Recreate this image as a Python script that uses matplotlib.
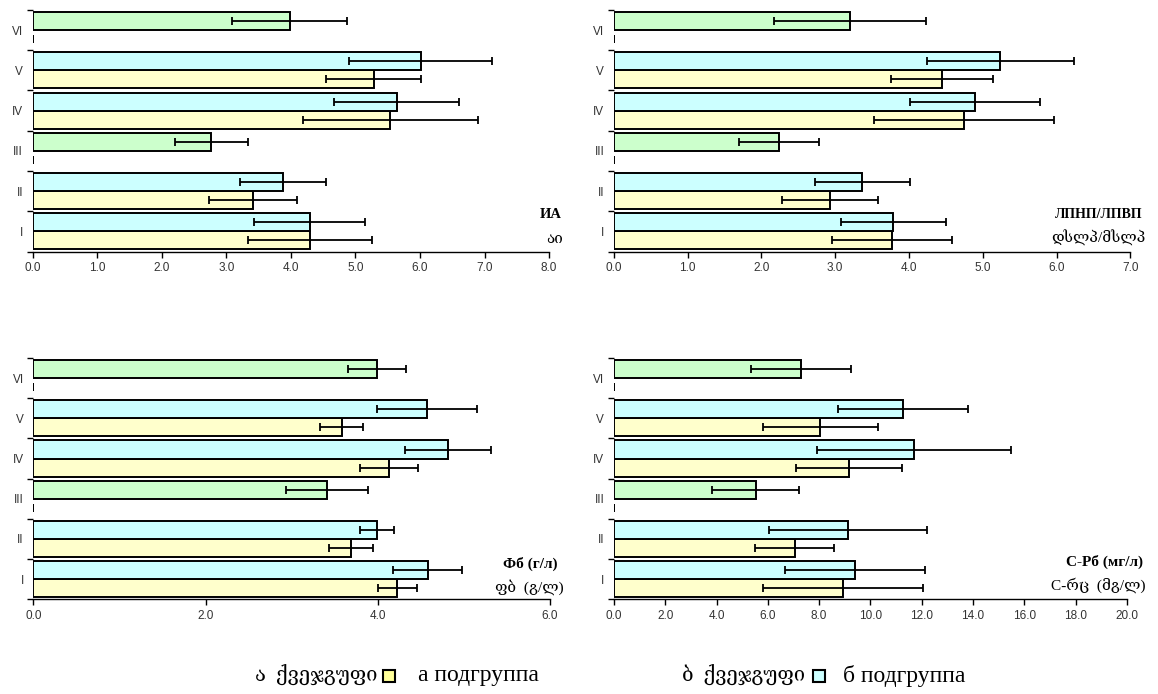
import numpy as np
import matplotlib
matplotlib.use("Agg")
import matplotlib.pyplot as plt
from matplotlib.patches import Rectangle
from matplotlib.ticker import FixedLocator, FormatStrFormatter

# categories (bottom to top)
cats = ["I", "II", "III", "IV", "V", "VI"]

# ИА / აი
ia_a = [4.30, 3.41, 0, 5.54, 5.28, 0]
ia_a_err = [0.96, 0.68, 0, 1.36, 0.73, 0]
ia_b = [4.29, 3.88, 2.77, 5.64, 6.01, 3.98]
ia_b_err = [0.86, 0.67, 0.56, 0.97, 1.11, 0.89]

# ЛПНП/ЛПВП
ldl_a = [3.77, 2.93, 0, 4.74, 4.45, 0]
ldl_a_err = [0.81, 0.65, 0, 1.22, 0.69, 0]
ldl_b = [3.79, 3.37, 2.24, 4.89, 5.24, 3.20]
ldl_b_err = [0.71, 0.645, 0.54, 0.88, 0.99, 1.03]

# Фб (г/л)
fb_a = [4.23, 3.69, 0, 4.13, 3.58, 0]
fb_a_err = [0.23, 0.26, 0, 0.34, 0.25, 0]
fb_b = [4.58, 3.99, 3.41, 4.82, 4.57, 3.99]
fb_b_err = [0.40, 0.20, 0.48, 0.50, 0.58, 0.34]

# C-Рб (мг/л)
crp_a = [8.93, 7.04, 0, 9.16, 8.05, 0]
crp_a_err = [3.13, 1.54, 0, 2.05, 2.25, 0]
crp_b = [9.39, 9.13, 5.53, 11.69, 11.26, 7.29]
crp_b_err = [2.74, 3.08, 1.69, 3.79, 2.53, 1.94]

YELLOW = "#ffffcc"
CYAN = "#ccffff"
GREEN = "#ccffcc"

SERIF = ["Liberation Serif", "DejaVu Serif"]
SANS = ["Liberation Sans", "DejaVu Sans"]

fig = plt.figure(figsize=(11.58, 6.94), dpi=100)


def panel(rect, a, a_err, b, b_err, xmax, step, label_ru, label_ka, pos, fs):
    ax = fig.add_axes(rect)
    y = np.arange(1, len(cats) + 1)
    a = np.array(a, dtype=float)
    b = np.array(b, dtype=float)
    h = 0.45
    has_a = a > 0
    # lower bar (subgroup a)
    ax.barh(y[has_a] - h / 2, a[has_a], height=h, color=YELLOW,
            edgecolor="black", linewidth=1.4, zorder=2)
    # upper bar (subgroup b, or whole group in green)
    colors = [CYAN if ha else GREEN for ha in has_a]
    ax.barh(y + h / 2, b, height=h, color=colors,
            edgecolor="black", linewidth=1.4, zorder=2)
    ax.errorbar(a, y - h / 2, xerr=a_err, fmt="none", ecolor="black",
                elinewidth=1.3, capsize=2.6, capthick=1.3, zorder=3)
    ax.errorbar(b, y + h / 2, xerr=b_err, fmt="none", ecolor="black",
                elinewidth=1.3, capsize=2.6, capthick=1.3, zorder=3)

    ax.set_xlim(0, xmax)
    ax.set_ylim(0.5, len(cats) + 0.5)
    ax.xaxis.set_major_locator(FixedLocator(np.arange(0, xmax + 0.01, step)))
    ax.xaxis.set_major_formatter(FormatStrFormatter("%.1f"))
    ax.set_yticks(y)
    ax.set_yticklabels(cats)
    ax.yaxis.set_minor_locator(FixedLocator(np.arange(0.5, len(cats) + 1, 1)))
    ax.tick_params(axis="y", which="major", length=0, pad=7)
    ax.tick_params(axis="y", which="minor", length=4, width=1)
    ax.tick_params(axis="x", length=4, width=1)
    ax.tick_params(labelsize=8.5, labelcolor="#333333")
    for lab in ax.get_xticklabels() + ax.get_yticklabels():
        lab.set_family(SANS)
    for s in ("top", "right", "left"):
        ax.spines[s].set_visible(False)
    ax.spines["bottom"].set_linewidth(1.0)

    (x1, y1), (x2, y2) = pos
    ax.text(x1, y1, label_ru, transform=ax.transAxes, ha="right",
            va="center", fontsize=fs, fontweight="bold", family=SERIF)
    ax.text(x2, y2, label_ka, transform=ax.transAxes, ha="right",
            va="center", fontsize=11, family=SERIF)
    return ax


W = 0.446
ax1 = panel([0.0282, 0.6376, W, 0.348], ia_a, ia_a_err, ia_b, ia_b_err,
            8, 1, "ИА", "აი", ((1.025, 0.155), (1.027, 0.05)), 10.5)
ax2 = panel([0.5301, 0.6376, W, 0.348], ldl_a, ldl_a_err, ldl_b, ldl_b_err,
            7, 1, "ЛПНП/ЛПВП", "დსლპ/მსლპ", ((1.023, 0.155), (1.029, 0.055)), 10)
ax3 = panel([0.0288, 0.1365, W, 0.3476], fb_a, fb_a_err, fb_b, fb_b_err,
            6, 2, "Фб (г/л)", "ფბ  (გ/ლ)", ((1.015, 0.146), (1.027, 0.051)), 11)
ax4 = panel([0.5302, 0.1365, 0.443, 0.3476], crp_a, crp_a_err, crp_b, crp_b_err,
            20, 2, "C-Рб (мг/л)", "C-რც  (მგ/ლ)", ((1.031, 0.155), (1.037, 0.06)), 11)

# legend along the bottom
ly = 1 - 676 / 694
fig.text(377 / 1158, ly, "ა  ქვეჯგუფი", ha="right", va="center",
         fontsize=14.5, family=SERIF)
fig.patches.append(Rectangle((383 / 1158, ly - 6 / 694), 12 / 1158, 12 / 694,
                             transform=fig.transFigure, facecolor="#ffff99",
                             edgecolor="black", linewidth=1.5))
fig.text(418 / 1158, ly, "а подгруппа", ha="left", va="center",
         fontsize=17, family=SERIF)
fig.text(805 / 1158, ly, "ბ  ქვეჯგუფი", ha="right", va="center",
         fontsize=14.5, family=SERIF)
fig.patches.append(Rectangle((813 / 1158, ly - 6 / 694), 12 / 1158, 12 / 694,
                             transform=fig.transFigure, facecolor=CYAN,
                             edgecolor="black", linewidth=1.5))
fig.text(843 / 1158, ly, "б подгруппа", ha="left", va="center",
         fontsize=17, family=SERIF)

fig.savefig("out.png", dpi=100)
